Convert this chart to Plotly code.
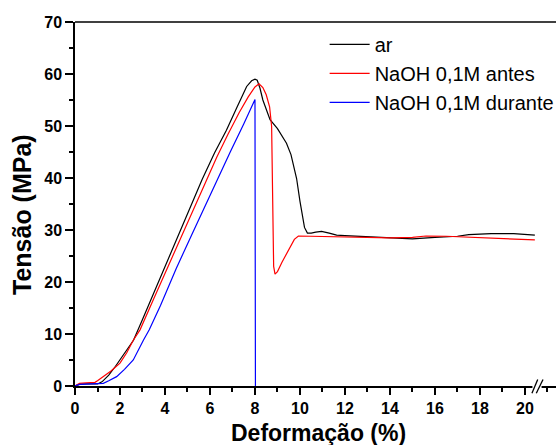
import plotly.graph_objects as go

# ---- data ----
ar_x = [0, 0.2, 0.5, 0.8, 1.0, 1.2, 1.5, 1.8, 2.0, 2.3, 2.6, 3.0, 3.5, 4.0, 4.67, 5.2, 5.65,
        6.2, 6.73, 7.2, 7.63, 7.85, 8.0, 8.1, 8.22, 8.35, 8.5, 8.67, 9.0, 9.4, 9.6, 9.75, 9.85,
        10.0, 10.07, 10.2, 10.33, 10.5, 10.7, 10.96, 11.3, 11.63, 12.0, 13.1, 14.0, 15.0,
        16.0, 17.0, 17.5, 18.5, 19.5, 20.44]
ar_y = [0, 0.3, 0.4, 0.4, 0.4, 0.8, 2.1, 3.8, 5.0, 6.9, 8.8, 12.8, 17.9, 23.0, 29.8, 35.2, 39.7,
        44.8, 49.2, 53.6, 57.6, 58.7, 59.0, 58.8, 57.3, 55.0, 53.1, 51.2, 49.5, 46.7, 44.5, 42.0, 39.9,
        35.5, 33.8, 30.5, 29.4, 29.4, 29.6, 29.75, 29.4, 29.0, 28.9, 28.7, 28.4, 28.3,
        28.6, 28.8, 29.1, 29.3, 29.3, 29.0]

antes_x = [0, 0.2, 0.5, 0.89, 1.0, 1.26, 1.6, 2.0, 2.3, 2.59, 2.89, 3.5, 4.0, 4.7, 5.2, 5.82,
           6.3, 6.8, 7.3, 7.7, 8.0, 8.18, 8.35, 8.5, 8.65, 8.74, 8.78, 8.8, 8.83, 8.89, 9.0,
           9.2, 9.5, 9.75, 9.93, 10.5, 12.0, 13.0, 14.0, 15.0, 15.6, 16.5, 17.0, 17.85, 19.0, 20.44]
antes_y = [0, 0.5, 0.6, 0.7, 1.0, 1.8, 2.9, 4.4, 6.4, 8.8, 10.8, 16.8, 21.7, 28.6, 33.5, 39.6,
           44.0, 48.4, 52.6, 55.6, 57.5, 58.1, 57.4, 56.0, 53.7, 49.9, 40.0, 30.0, 23.0, 21.5, 22.0,
           23.8, 26.3, 28.2, 28.85, 28.8, 28.7, 28.6, 28.5, 28.6, 28.85, 28.8, 28.7, 28.5, 28.3, 28.1]

durante_x = [0, 0.2, 0.5, 0.8, 1.0, 1.26, 1.5, 1.85, 2.2, 2.59, 3.04, 3.3, 3.8, 4.5, 5.2, 5.8,
             6.3, 6.9, 7.5, 8.0, 8.02]
durante_y = [0, 0.3, 0.35, 0.4, 0.4, 0.5, 1.0, 1.8, 3.2, 5.0, 8.8, 10.8, 15.5, 22.6, 29.2, 34.9,
             39.6, 45.0, 50.4, 55.1, 0]

series_names = ["ar", "NaOH 0,1M antes", "NaOH 0,1M durante"]
series_colors = ["#000000", "#ff0000", "#0000ff"]

x_ticks = [0, 2, 4, 6, 8, 10, 12, 14, 16, 18, 20]
y_ticks = [0, 10, 20, 30, 40, 50, 60, 70]

FONT = "Arial, 'Liberation Sans', sans-serif"

fig = go.Figure()
for xs, ys, name, col in zip([ar_x, antes_x, durante_x], [ar_y, antes_y, durante_y],
                             series_names, series_colors):
    fig.add_trace(go.Scatter(x=xs, y=ys, mode="lines", name=name,
                             line=dict(color=col, width=1.2)))

axis_common = dict(showgrid=False, zeroline=False, showline=True, linecolor="#000",
                   linewidth=1.5, ticks="outside", tickwidth=1.5, tickcolor="#000",
                   tickfont=dict(family=FONT, size=16, color="#000", weight="bold"))

fig.update_xaxes(range=[0, 21.38], tickvals=x_ticks, mirror=False, ticklen=7,
                 minor=dict(dtick=1, tick0=0, ticklen=4, tickwidth=1.5, ticks="outside",
                            tickcolor="#000"),
                 **axis_common)
fig.update_yaxes(range=[0, 70], tickvals=y_ticks, ticklen=8,
                 minor=dict(dtick=5, tick0=0, ticklen=4, tickwidth=1.5, ticks="outside",
                            tickcolor="#000"),
                 **axis_common)

fig.update_layout(
    width=556, height=445,
    margin=dict(l=75, r=0, t=22, b=59, autoexpand=False),
    plot_bgcolor="white", paper_bgcolor="white",
    font=dict(family=FONT, color="#000"),
    showlegend=True,
    legend=dict(x=0.519, y=0.992, xanchor="left", yanchor="top",
                bgcolor="rgba(0,0,0,0)", borderwidth=0,
                font=dict(family=FONT, size=20, color="#000"),
                itemwidth=40, tracegroupgap=0),
    annotations=[
        dict(text="<b>Deformação (%)</b>", xref="paper", yref="paper", x=0.507, y=-0.13,
             xanchor="center", yanchor="middle", showarrow=False,
             font=dict(family=FONT, size=23, color="#000")),
        dict(text="<b>Tensão (MPa)</b>", xref="paper", yref="paper", x=-0.110, y=0.47,
             xanchor="center", yanchor="middle", showarrow=False, textangle=-90,
             font=dict(family=FONT, size=25, color="#000")),
    ],
    shapes=[
        dict(type="line", xref="paper", yref="paper", x0=0, x1=1, y0=1, y1=1,
             line=dict(color="#000", width=1.5)),
        dict(type="rect", xref="paper", yref="paper", x0=0.951, x1=0.970, y0=-0.006, y1=0.006,
             fillcolor="white", line=dict(width=0)),
        dict(type="line", xref="paper", yref="paper", x0=0.950, x1=0.962, y0=-0.020, y1=0.018,
             line=dict(color="#000", width=1.3)),
        dict(type="line", xref="paper", yref="paper", x0=0.959, x1=0.973, y0=-0.020, y1=0.018,
             line=dict(color="#000", width=1.3)),
    ],
)

fig.write_html("out.html", config={"displayModeBar": False},
               post_script="document.body.style.margin='0';")
